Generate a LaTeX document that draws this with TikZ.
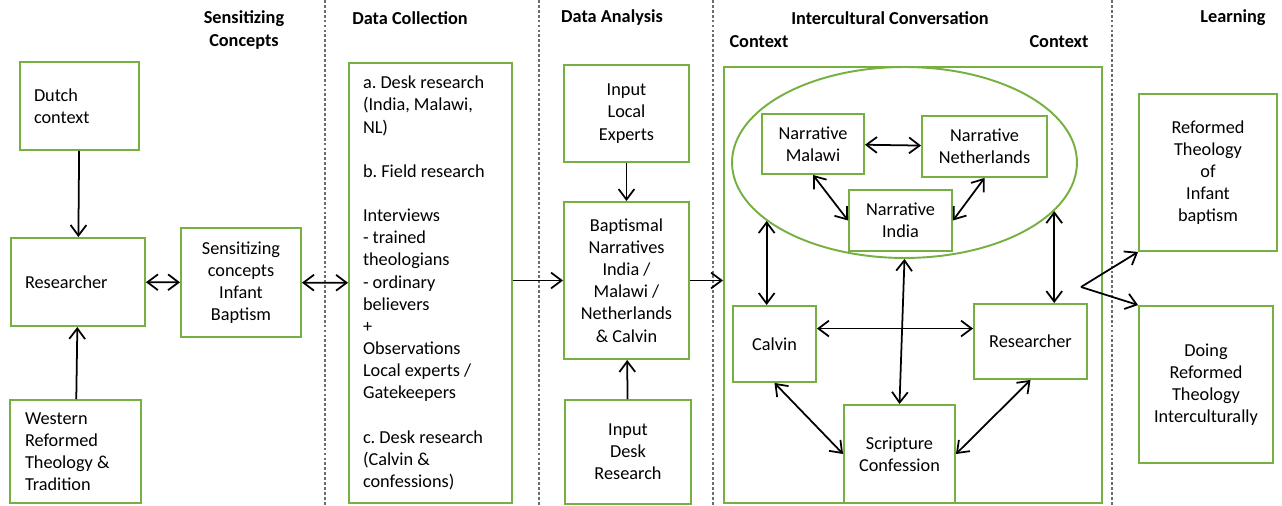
\documentclass[tikz,border=0pt]{standalone}
\usepackage{fontspec}
\setmainfont{Carlito}
\usepackage{xcolor}
\usepackage{tikz}
\usetikzlibrary{positioning, shapes, arrows.meta, calc}
\definecolor{boxgreen}{RGB}{118,176,66}
\definecolor{sepgray}{RGB}{110,110,110}
\frenchspacing

\begin{document}
\begin{tikzpicture}[x=0.02cm, y=-0.02cm,
  every node/.style={font=\fontsize{10.4}{12.6}\selectfont},
  box/.style={draw=boxgreen, line width=1.1pt, rectangle, align=flush center, inner sep=0pt},
  lbox/.style={box, align=flush left, inner xsep=0.28cm},
  head/.style={font=\fontsize{10.4}{13.6}\selectfont\bfseries, align=flush center},
  link/.style={line width=1pt},
  sep/.style={draw=sepgray, line width=0.6pt, dash pattern=on 1.6pt off 1.2pt},
  >={Straight Barb[length=6pt, width=9pt]}]

\useasboundingbox (0,0) rectangle (1282,506);

% Phase separators
\foreach \x in {325, 539, 713, 1112}
  \draw[sep] (\x,0) -- (\x,506);

% Column headers
\node[head] (hsens) at (244,30) {Sensitizing\\Concepts};
\node[head] (hcoll) at (410,18) {Data Collection};
\node[head] (hanal) at (612,18) {Data Analysis};
\node[head] (hconv) at (890,18) {Intercultural Conversation};
\node[head] (hctxl) at (759,42) {Context};
\node[head] (hctxr) at (1059,42) {Context};
\node[head] (hlearn) at (1233,18) {Learning};

% Sensitizing concepts
\node[lbox, minimum width=2.38cm, minimum height=1.76cm, text width=1.82cm] (dutch) at (79.5,106) {Dutch\\context};
\node[lbox, minimum width=2.68cm, minimum height=1.76cm, text width=2.12cm] (res1) at (78,282) {Researcher};
\node[lbox, minimum width=2.62cm, minimum height=2.06cm, text width=2.02cm, inner xsep=0.3cm] (western) at (75.5,451.5) {Western\\Reformed\\Theology \&\\Tradition};
\node[box, minimum width=2.4cm, minimum height=2.18cm] (sensit) at (241,282.5) {Sensitizing\\concepts\\Infant\\Baptism};

% Data collection
\node[lbox, minimum width=3.26cm, minimum height=8.8cm, text width=2.7cm] (collect) at (430.5,283) {a. Desk research\\(India, Malawi,\\NL)\\[12.6pt]b. Field research\\[12.6pt]Interviews\\- trained\\theologians\\- ordinary\\believers\\+\\Observations\\Local experts /\\Gatekeepers\\[12.6pt]c. Desk research\\(Calvin \&\\confessions)};

% Data analysis
\node[box, minimum width=2.5cm, minimum height=1.94cm] (local) at (626.5,113.5) {Input\\Local\\Experts};
\node[box, minimum width=2.5cm, minimum height=3.14cm] (bapt) at (626.5,280.5) {Baptismal\\Narratives\\India /\\Malawi /\\Netherlands\\\& Calvin};
\node[box, minimum width=2.52cm, minimum height=2.08cm] (deskin) at (628,452) {Input\\Desk\\Research};

% Intercultural conversation
\node[box, minimum width=7.56cm, minimum height=8.72cm] (conv) at (913,285) {};
\node[draw=boxgreen, line width=1.1pt, ellipse, inner sep=0pt, minimum width=6.9cm, minimum height=3.82cm] (ellip) at (904.5,162.5) {};
\node[box, minimum width=2.04cm, minimum height=1.2cm] (malawi) at (813,144) {Narrative\\Malawi};
\node[box, minimum width=2.5cm, minimum height=1.22cm] (nether) at (984.5,146.5) {Narrative\\Netherlands};
\node[box, minimum width=2.06cm, minimum height=1.22cm] (india) at (900.5,220.5) {Narrative\\India};
\node[box, minimum width=1.66cm, minimum height=1.52cm] (calvin) at (774.5,344) {Calvin};
\node[box, minimum width=2.26cm, minimum height=1.5cm] (res2) at (1030.5,341.5) {Researcher};
\node[box, minimum width=2.22cm, minimum height=1.96cm] (script) at (899.5,454) {Scripture\\Confession};

% Learning
\node[box, minimum width=2.76cm, minimum height=3.14cm] (reformed) at (1208,172.5) {Reformed\\Theology\\of\\Infant\\baptism};
\node[box, minimum width=2.68cm, minimum height=3.14cm] (doing) at (1206,384.5) {Doing\\Reformed\\Theology\\Interculturally};
\coordinate (fork) at (1081,287);

% Connections
\draw[link, ->] (dutch) -- (res1);
\draw[link, ->] (western) -- (res1);
\draw[link, <->] (res1) -- (sensit);
\draw[link, <->] (sensit) -- (collect);
\draw[link, ->] (collect.east |- bapt.west) -- (bapt.west);
\draw[link, ->] (local) -- (bapt);
\draw[link, ->] (deskin) -- (bapt);
\draw[link, ->] (bapt.east) -- (conv.west |- bapt.east);

\draw[link, <->] (malawi) -- (nether);
\draw[link, <->] (malawi.south) -- (india.west);
\draw[link, <->] (nether.south) -- (india.east);
\draw[link, <->] (ellip.203.5) -- (ellip.203.5 |- calvin.north);
\draw[link, <->] (ellip.-18) -- (ellip.-18 |- res2.north);
\draw[link, <->] (ellip.south) -- (script.north);
\draw[link, <->] (calvin.20) -- (calvin.20 -| res2.west);
\draw[link, <->] (calvin.south) -- (script.west);
\draw[link, <->] (res2.south) -- (script.east);

\draw[link, ->] (fork) -- (reformed.south west);
\draw[link, ->] (fork) -- (doing.north west);

\end{tikzpicture}
\end{document}
